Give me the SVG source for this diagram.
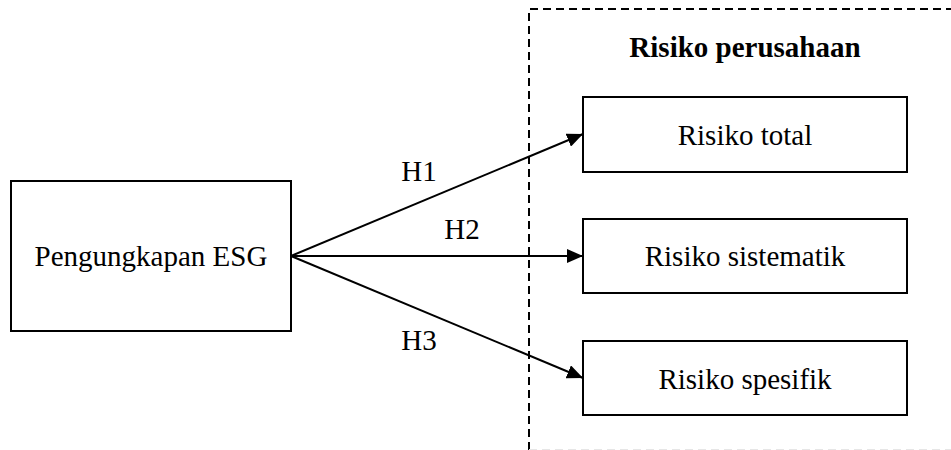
<svg xmlns="http://www.w3.org/2000/svg" width="951" height="450" viewBox="0 0 951 450">
<style>
.box{fill:#fff;stroke:#000;stroke-width:2}
.t{font-family:"Liberation Serif","Times New Roman",serif;font-size:29px;fill:#000;text-anchor:middle}
.b{font-weight:bold}
.c{stroke:#000;stroke-width:2;fill:none}
.d{stroke:#000;stroke-width:2;fill:none;stroke-dasharray:8 5}
</style>
<defs>
<marker id="ah" viewBox="0 0 16 14" refX="16" refY="7" markerWidth="16" markerHeight="14" markerUnits="userSpaceOnUse" orient="auto">
<path d="M0,0 L16,7 L0,14 Z" fill="#000"/>
</marker>
</defs>
<rect width="951" height="450" fill="#fff"/>
<g id="group-risiko">
<path class="d" d="M529,450 V9 H951"/>
<line x1="529" y1="449.5" x2="951" y2="449.5" stroke="#e6e6e6" stroke-width="1" stroke-dasharray="8 5"/>
<text class="t b" x="745" y="57">Risiko perusahaan</text>
</g>
<g id="connectors">
<line class="c" x1="291" y1="256" x2="583" y2="134" marker-end="url(#ah)"/>
<line class="c" x1="291" y1="256" x2="583" y2="256" marker-end="url(#ah)"/>
<line class="c" x1="291" y1="256" x2="583" y2="378" marker-end="url(#ah)"/>
<text class="t" x="419" y="181">H1</text>
<text class="t" x="462" y="239">H2</text>
<text class="t" x="419" y="350">H3</text>
</g>
<g id="node-esg">
<rect class="box" x="11" y="181" width="280" height="150"/>
<text class="t" x="151" y="266">Pengungkapan ESG</text>
</g>
<g id="node-total">
<rect class="box" x="583" y="97" width="324" height="75"/>
<text class="t" x="745" y="145">Risiko total</text>
</g>
<g id="node-sistematik">
<rect class="box" x="583" y="219" width="324" height="74"/>
<text class="t" x="745" y="266">Risiko sistematik</text>
</g>
<g id="node-spesifik">
<rect class="box" x="583" y="341" width="324" height="74"/>
<text class="t" x="745" y="389">Risiko spesifik</text>
</g>
</svg>
